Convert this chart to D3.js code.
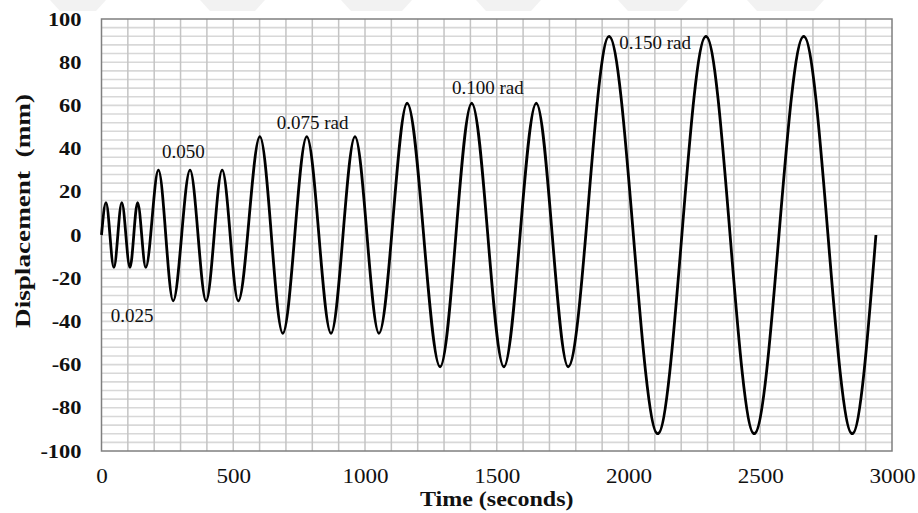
<!DOCTYPE html>
<html>
<head>
<meta charset="utf-8">
<script src="https://cdn.jsdelivr.net/npm/d3@7"></script>
<style>
  body { margin: 0; background: #fff; }
  svg { display: block; }
</style>
</head>
<body>
<div id="chart"></div>
<script>
const width = 918;
const height = 513;

// peaks / troughs (time in s, displacement in mm)
const times = [0, 17, 47, 77, 108, 137, 168, 216, 272, 336, 397, 458, 519,
  601, 688, 779, 871, 962, 1053, 1160, 1285, 1405, 1527, 1650, 1771,
  1926, 2111, 2294, 2477, 2665, 2849, 2939];
const displacement = [0, 15, -15, 15, -15, 15, -15, 30, -30.5, 30, -30.5, 30, -30.5,
  45.5, -45.5, 45.5, -45.5, 45.5, -45.5, 61, -61, 61, -61, 61, -61,
  92, -92, 92, -92, 92, -92, 0];

const xTicks = [0, 500, 1000, 1500, 2000, 2500, 3000];
const yTicks = [-100, -80, -60, -40, -20, 0, 20, 40, 60, 80, 100];

const labels = [
  {text: "0.025", t: 35, v: -40.5},
  {text: "0.050", t: 230, v: 35.5},
  {text: "0.075 rad", t: 665, v: 49},
  {text: "0.100 rad", t: 1330, v: 65.5},
  {text: "0.150 rad", t: 1965, v: 86}
];

const margin = {top: 19, right: 26, bottom: 62, left: 101.5};
const serif = "'Liberation Serif', 'Times New Roman', serif";

const svg = d3.select("#chart").append("svg")
    .attr("width", width)
    .attr("height", height);

// the source picture is a little wider than tall, so stretch text to match
function stretch(sel, k) {
  sel.each(function() {
    const w = this.getComputedTextLength();
    d3.select(this)
      .attr("textLength", w * k)
      .attr("lengthAdjust", "spacingAndGlyphs");
  });
}

// faint watermark blobs along the top edge
const blobs = [[50, 106], [200, 265], [341, 412], [476, 541], [618, 688], [747, 824]];
svg.append("g")
  .selectAll("path")
  .data(blobs)
  .join("path")
    .attr("d", d => `M${d[0]},0 L${d[1]},0 L${d[1] - 10},11 L${d[0] + 10},11 Z`)
    .style("fill", "#f2f2f2");

const x = d3.scaleLinear().domain([0, 3000]).range([margin.left, width - margin.right]);
const y = d3.scaleLinear().domain([-100, 100]).range([height - margin.bottom, margin.top]);

// grid
svg.append("g")
  .selectAll("line")
  .data(d3.range(-96, 100, 4))
  .join("line")
    .attr("x1", x(0)).attr("x2", x(3000))
    .attr("y1", d => y(d)).attr("y2", d => y(d))
    .style("stroke", "#d8d8d8")
    .style("stroke-width", 1.6);

svg.append("g")
  .selectAll("line")
  .data(d3.range(100, 3000, 100))
  .join("line")
    .attr("x1", d => x(d)).attr("x2", d => x(d))
    .attr("y1", y(100)).attr("y2", y(-100))
    .style("stroke", "#c4c4c4")
    .style("stroke-width", 1.5);

svg.append("rect")
    .attr("x", x(0)).attr("y", y(100))
    .attr("width", x(3000) - x(0))
    .attr("height", y(-100) - y(100))
    .style("fill", "none")
    .style("stroke", "#7f7f7f")
    .style("stroke-width", 1.5);

// axes (labels only)
const xAxis = svg.append("g")
    .attr("transform", `translate(0,${y(-100)})`)
    .call(d3.axisBottom(x).tickValues(xTicks).tickSize(0).tickPadding(17)
      .tickFormat(d3.format("d")));
xAxis.select(".domain").remove();
xAxis.selectAll("text")
    .style("font-family", serif)
    .style("font-size", "21px")
    .style("fill", "#111")
    .call(stretch, 1.1);

const yAxis = svg.append("g")
    .attr("transform", `translate(${margin.left},0)`)
    .call(d3.axisLeft(y).tickValues(yTicks).tickSize(0).tickPadding(20)
      .tickFormat(d => String(d)));
yAxis.select(".domain").remove();
yAxis.selectAll("text")
    .style("font-family", serif)
    .style("font-size", "19px")
    .style("font-weight", "bold")
    .style("fill", "#111")
    .call(stretch, 1.18);

// displacement history
const line = d3.line()
    .x((d, i) => x(times[i]))
    .y(d => y(d))
    .curve(d3.curveMonotoneX);

svg.append("path")
    .datum(displacement)
    .attr("d", line)
    .style("fill", "none")
    .style("stroke", "#000")
    .style("stroke-width", 2.8)
    .style("stroke-linejoin", "round");

// drift labels
svg.append("g")
  .selectAll("text")
  .data(labels)
  .join("text")
    .attr("x", d => x(d.t))
    .attr("y", d => y(d.v))
    .text(d => d.text)
    .style("font-family", serif)
    .style("font-size", "19px")
    .style("fill", "#111");

// axis titles
svg.append("text")
    .attr("x", (x(0) + x(3000)) / 2)
    .attr("y", 506)
    .attr("text-anchor", "middle")
    .text("Time (seconds)")
    .style("font-family", serif)
    .style("font-size", "20px")
    .style("font-weight", "bold")
    .style("fill", "#111")
    .call(stretch, 1.2);

svg.append("text")
    .attr("transform", "translate(30,211) rotate(-90)")
    .attr("text-anchor", "middle")
    .text("Displacement\u00a0\u00a0(mm)")
    .style("font-family", serif)
    .style("font-size", "21px")
    .style("font-weight", "bold")
    .style("fill", "#111")
    .attr("textLength", 234)
    .attr("lengthAdjust", "spacingAndGlyphs");
</script>
</body>
</html>
